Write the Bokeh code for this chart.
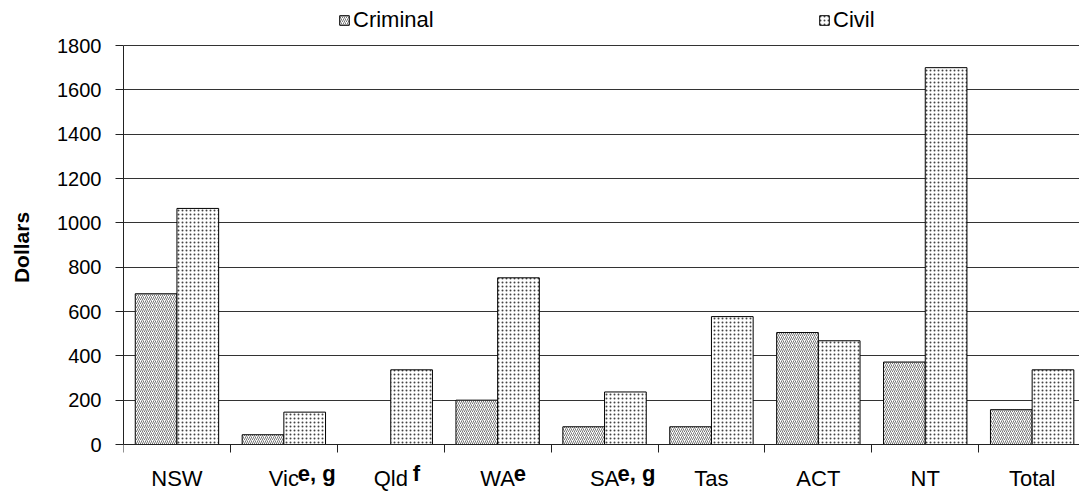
from bokeh.plotting import figure
from bokeh.models import Range1d, FixedTicker, Legend, LegendItem, Label
from bokeh.embed import file_html
from bokeh.resources import INLINE

# Average cost per case (dollars) by jurisdiction
categories = ["NSW", "Vic", "Qld", "WA", "SA", "Tas", "ACT", "NT", "Total"]
notes = ["", "e, g", "f", "e", "e, g", "", "", "", ""]
criminal = [680, 44, 0, 200, 80, 80, 505, 372, 157]
civil = [1065, 146, 337, 752, 237, 577, 468, 1700, 337]
y_ticks = [0, 200, 400, 600, 800, 1000, 1200, 1400, 1600, 1800]

FONT = "Liberation Sans"
FS_Y = "20px"
FS_X = "22px"

W, H = 1079, 494
LEFT = 123                 # canvas x of the value axis
Y_TOP, Y_BOT = 45, 444     # canvas y of 1800 and of 0
PX_PER_CAT = 106.9         # pixels per category slot
PX_PER_DOLLAR = (Y_BOT - Y_TOP) / 1800.0

n = len(categories)
centers = [i + 0.5 for i in range(n)]
bw = 0.39

# the plotting frame fills the canvas height so that the category labels,
# footnote markers and legend all live inside it
y_lo = -(H - Y_BOT) / PX_PER_DOLLAR
y_hi = 1800 + Y_TOP / PX_PER_DOLLAR

p = figure(width=W, height=H, output_backend="svg", toolbar_location=None,
           x_range=Range1d(0, (W - LEFT) / PX_PER_CAT),
           y_range=Range1d(y_lo, y_hi),
           min_border_left=LEFT, min_border_right=0, min_border_top=0,
           min_border_bottom=0)
p.outline_line_color = None
p.background_fill_color = "white"
p.border_fill_color = "white"

r_crim = p.vbar(x=[c - bw / 2 for c in centers], top=criminal, width=bw,
                fill_color="white", line_color="black", line_width=1,
                hatch_pattern="/", hatch_scale=4, hatch_color="#777777",
                hatch_weight=1)
r_civ = p.vbar(x=[c + bw / 2 for c in centers], top=civil, width=bw,
               fill_color="white", line_color="black", line_width=1,
               hatch_pattern=".", hatch_scale=4, hatch_color="#444444",
               hatch_weight=1)

# x axis sits on zero: labels at category centres, ticks on the boundaries
xa = p.xaxis[0]
xa.fixed_location = 0
xa.ticker = FixedTicker(ticks=centers, minor_ticks=list(range(0, n + 1)))
xa.major_label_overrides = {c: name for c, name in zip(centers, categories)}
xa.major_tick_out = 0
xa.major_tick_in = 0
xa.minor_tick_out = 8
xa.minor_tick_in = 0
xa.minor_tick_line_color = "#222222"
xa.axis_line_color = "#222222"
xa.major_label_standoff = 13
xa.major_label_text_font = FONT
xa.major_label_text_font_size = FS_X
xa.major_label_text_color = "black"
p.xgrid.visible = False

ya = p.yaxis[0]
ya.bounds = (0, 1800)
ya.ticker = FixedTicker(ticks=y_ticks)
ya.major_tick_out = 8
ya.major_tick_in = 0
ya.minor_tick_out = 0
ya.minor_tick_in = 0
ya.major_tick_line_color = "#222222"
ya.axis_line_color = "#222222"
ya.major_label_standoff = 14
ya.major_label_text_font = FONT
ya.major_label_text_font_size = FS_Y
ya.major_label_text_color = "black"
ya.axis_label = "Dollars"
ya.axis_label_text_font = FONT
ya.axis_label_text_font_size = "21px"
ya.axis_label_text_font_style = "bold"
ya.axis_label_text_color = "black"
ya.axis_label_standoff = 21
p.ygrid.grid_line_color = "#333333"
p.ygrid.grid_line_width = 1

# bold footnote markers, raised, set just after the jurisdiction names
note_offset = {"Vic": 14, "Qld": 22, "WA": 16, "SA": 13}
note_y = -(473 - Y_BOT) / PX_PER_DOLLAR
for c, name, note in zip(centers, categories, notes):
    if note:
        p.add_layout(Label(x=c, y=note_y, x_units="data", y_units="data",
                           x_offset=note_offset[name], text=note,
                           text_font=FONT, text_font_size=FS_X,
                           text_font_style="bold", text_color="black",
                           text_align="left", text_baseline="alphabetic"))


def make_legend(label, renderer, x):
    return Legend(items=[LegendItem(label=label, renderers=[renderer])],
                  location=(x - LEFT, H - 33), orientation="horizontal",
                  padding=0, margin=0, border_line_color=None,
                  background_fill_alpha=0, glyph_width=12, glyph_height=12,
                  label_standoff=3, label_height=20,
                  label_text_font=FONT, label_text_font_size=FS_X,
                  label_text_color="black")


p.add_layout(make_legend("Criminal", r_crim, 338))
p.add_layout(make_legend("Civil", r_civ, 818))

open("out.html", "w").write(file_html(p, INLINE))
